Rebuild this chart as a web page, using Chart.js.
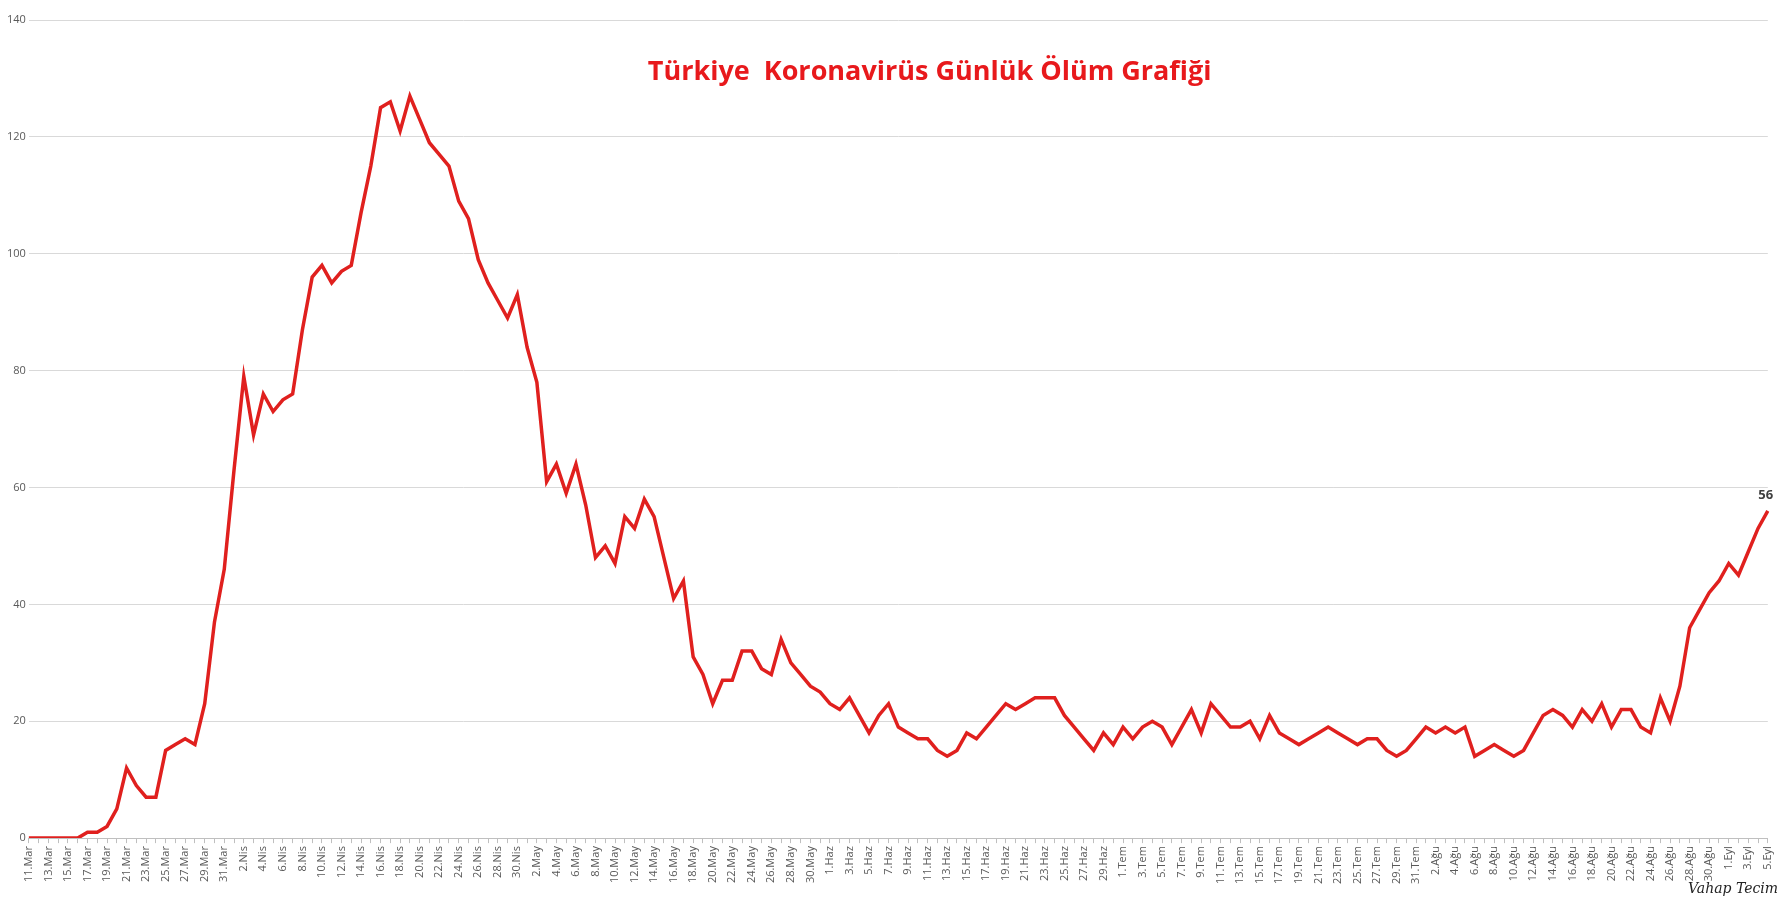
<!DOCTYPE html>
<html>
<head>
<meta charset="utf-8">
<script src="https://cdn.jsdelivr.net/npm/chart.js@4.4.0/dist/chart.umd.min.js"></script>
<style>
  html, body { margin: 0; padding: 0; background: #fff; }
  #kutu { position: relative; width: 1784px; height: 901px; }
  #imza { position: absolute; left: 1688px; top: 880px; white-space: nowrap; font: italic 14px "DejaVu Serif", serif; color: #222; }
</style>
</head>
<body>
<div id="kutu">
  <canvas id="grafik" width="1784" height="901"></canvas>
  <div id="imza">Vahap Tecim</div>
</div>
<script>
// Günlük ölüm verileri (11 Mart - 5 Eylül)
const mart = [0,0,0,0,0,0,1,1,2,5,12,9,7,7,15,16,17,16,23,37,46];
const nisan = [63,79,69,76,73,75,76,87,96,98,95,97,98,107,115,125,126,121,127,123,119,117,115,109,106,99,95,92,89,93];
const mayis = [84,78,61,64,59,64,57,48,50,47,55,53,58,55,48,41,44,31,28,23,27,27,32,32,29,28,34,30,28,26,25];
const haziran = [23,22,24,21,18,21,23,19,18,17,17,15,14,15,18,17,19,21,23,22,23,24,24,24,21,19,17,15,18,16];
const temmuz = [19,17,19,20,19,16,19,22,18,23,21,19,19,20,17,21,18,17,16,17,18,19,18,17,16,17,17,15,14,15,17];
const agustos = [19,18,19,18,19,14,15,16,15,14,15,18,21,22,21,19,22,20,23,19,22,22,19,18,24,20,26,36,39,42,44];
const eylul = [47,45,49,53,56];

const aylar = [["Mar", 11, 31], ["Nis", 1, 30], ["May", 1, 31], ["Haz", 1, 30], ["Tem", 1, 31], ["Ağu", 1, 31], ["Eyl", 1, 5]];
const etiketler = [];
aylar.forEach(a => { for (let g = a[1]; g <= a[2]; g++) etiketler.push(g + "." + a[0]); });

const olumler = [].concat(mart, nisan, mayis, haziran, temmuz, agustos, eylul);
const baslik = 'Türkiye  Koronavirüs Günlük Ölüm Grafiği';

const yazilar = {
  id: 'yazilar',
  afterDatasetsDraw(chart) {
    const meta = chart.getDatasetMeta(0);
    const p = meta.data[meta.data.length - 1];
    const a = chart.chartArea;
    const c = chart.ctx;
    c.save();
    c.font = 'bold 13px "Open Sans"';
    c.fillStyle = '#404040';
    c.textAlign = 'center';
    c.fillText(olumler[olumler.length - 1], p.x - 2, p.y - 12);
    c.font = 'bold 27px "Open Sans"';
    c.fillStyle = '#e8191c';
    c.textBaseline = 'middle';
    c.fillText(baslik, a.left + (a.right - a.left) * 0.518, 72);
    c.restore();
  }
};

new Chart(document.getElementById('grafik'), {
  type: 'line',
  data: {
    labels: etiketler,
    datasets: [{
      data: olumler,
      borderColor: '#e0201e',
      borderWidth: 3.5,
      pointRadius: 0,
      tension: 0
    }]
  },
  options: {
    responsive: false,
    animation: false,
    layout: { padding: { left: 4, right: 14, top: 20, bottom: 14 } },
    plugins: {
      legend: { display: false },
      tooltip: { enabled: false }
    },
    scales: {
      x: {
        offset: false,
        grid: { display: true, drawOnChartArea: false, tickLength: 5, color: '#bfbfbf' },
        border: { color: '#bfbfbf' },
        ticks: {
          autoSkip: false,
          maxRotation: 90,
          minRotation: 90,
          color: '#595959',
          font: { family: 'Open Sans', size: 11 },
          callback: (v, i) => i % 2 === 0 ? etiketler[i] : ''
        }
      },
      y: {
        min: 0,
        max: 140,
        ticks: { stepSize: 20, color: '#595959', font: { family: 'Open Sans', size: 11 } },
        grid: { color: '#d9d9d9', drawTicks: false },
        border: { display: false }
      }
    }
  },
  plugins: [yazilar]
});
</script>
</body>
</html>
